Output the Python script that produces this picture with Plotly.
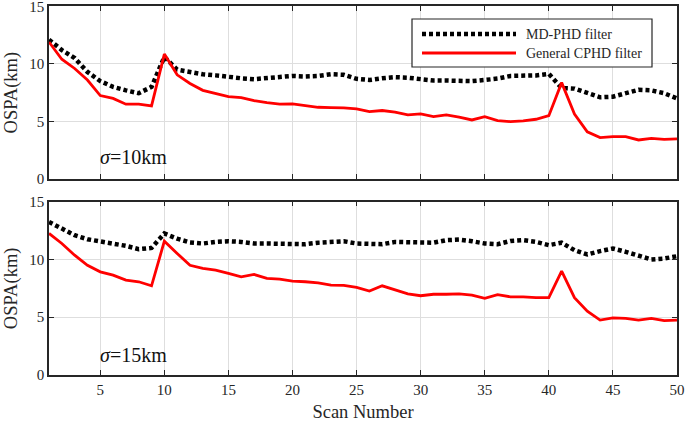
import plotly.graph_objects as go

scan = list(range(1, 51))

# sigma = 10 km
md_phd_10 = [12.1, 11.2, 10.5, 9.3, 8.5, 8.0, 7.7, 7.45, 8.0, 10.6,
             9.5, 9.3, 9.1, 9.0, 8.85, 8.75, 8.67, 8.75, 8.9, 8.95,
             8.9, 8.95, 9.1, 9.05, 8.7, 8.6, 8.75, 8.85, 8.8, 8.67,
             8.55, 8.55, 8.5, 8.5, 8.6, 8.72, 8.95, 8.93, 9.0, 9.13,
             7.9, 7.85, 7.5, 7.1, 7.15, 7.4, 7.75, 7.7, 7.45, 7.0]
cphd_10 = [11.9, 10.4, 9.6, 8.6, 7.25, 7.0, 6.5, 6.5, 6.35, 10.85,
           9.05, 8.3, 7.7, 7.4, 7.15, 7.07, 6.8, 6.63, 6.5, 6.52,
           6.35, 6.23, 6.2, 6.18, 6.09, 5.85, 5.95, 5.8, 5.57, 5.65,
           5.42, 5.57, 5.37, 5.13, 5.42, 5.07, 4.98, 5.05, 5.19, 5.5,
           8.37, 5.65, 4.1, 3.6, 3.68, 3.68, 3.39, 3.53, 3.45, 3.48]

# sigma = 15 km
md_phd_15 = [13.25, 12.68, 12.1, 11.75, 11.58, 11.38, 11.18, 10.89, 11.0, 12.25,
             11.8, 11.47, 11.38, 11.52, 11.58, 11.52, 11.38, 11.38, 11.38, 11.35,
             11.32, 11.45, 11.52, 11.58, 11.38, 11.35, 11.32, 11.52, 11.52, 11.47,
             11.45, 11.67, 11.72, 11.58, 11.38, 11.32, 11.6, 11.67, 11.52, 11.24,
             11.45, 10.8, 10.43, 10.72, 10.95, 10.66, 10.37, 10.0, 10.08, 10.28]
cphd_15 = [12.25, 11.38, 10.37, 9.5, 8.93, 8.64, 8.21, 8.07, 7.72, 11.58,
           10.52, 9.5, 9.22, 9.07, 8.79, 8.5, 8.7, 8.36, 8.3, 8.12,
           8.07, 7.98, 7.78, 7.76, 7.58, 7.26, 7.72, 7.35, 7.03, 6.86,
           6.99, 6.99, 7.02, 6.91, 6.63, 6.96, 6.77, 6.77, 6.7, 6.7,
           8.99, 6.7, 5.53, 4.75, 4.95, 4.9, 4.75, 4.9, 4.7, 4.75]

series_names = ["MD-PHD filter", "General CPHD filter"]
panel_labels = ["<i>σ</i>=10km", "<i>σ</i>=15km"]
x_ticks = [5, 10, 15, 20, 25, 30, 35, 40, 45, 50]
y_ticks = [0, 5, 10, 15]

FONT = "Liberation Serif"
W, H = 685, 422

fig = go.Figure()
black_line = dict(color="black", width=4.5, dash="4px,3px")
red_line = dict(color="#ff0000", width=2.8)

fig.add_trace(go.Scatter(x=scan, y=md_phd_10, mode="lines", line=black_line,
                         name=series_names[0], showlegend=False, xaxis="x", yaxis="y"))
fig.add_trace(go.Scatter(x=scan, y=cphd_10, mode="lines", line=red_line,
                         name=series_names[1], showlegend=False, xaxis="x", yaxis="y"))
fig.add_trace(go.Scatter(x=scan, y=md_phd_15, mode="lines", line=black_line,
                         name=series_names[0], showlegend=False, xaxis="x2", yaxis="y2"))
fig.add_trace(go.Scatter(x=scan, y=cphd_15, mode="lines", line=red_line,
                         name=series_names[1], showlegend=False, xaxis="x2", yaxis="y2"))

xdom = [49 / W, 677 / W]
ydom_top = [(H - 179) / H, (H - 6.3) / H]
ydom_bot = [(H - 375) / H, (H - 201.7) / H]

axis_common = dict(showline=True, linecolor="#262626", linewidth=1.5, mirror="ticks",
                   ticks="inside", ticklen=5, tickcolor="#262626", tickwidth=1.2,
                   showgrid=True, gridcolor="#dedede", gridwidth=1, zeroline=False,
                   ticklabeloverflow="allow",
                   tickfont=dict(family=FONT, size=15, color="#262626"))

fig.update_layout(
    width=W, height=H,
    margin=dict(l=0, r=0, t=0, b=0),
    paper_bgcolor="white", plot_bgcolor="white",
    font=dict(family=FONT, color="#262626"),
    showlegend=False,
    xaxis=dict(domain=xdom, anchor="y", range=[1, 50], tickvals=x_ticks,
               showticklabels=False, **axis_common),
    yaxis=dict(domain=ydom_top, anchor="x", range=[0, 15], tickvals=y_ticks,
               title=dict(text="OSPA(km)", font=dict(family=FONT, size=18.5), standoff=7),
               **axis_common),
    xaxis2=dict(domain=xdom, anchor="y2", range=[1, 50], tickvals=x_ticks,
                title=dict(text="Scan Number", font=dict(family=FONT, size=18.5), standoff=8),
                **axis_common),
    yaxis2=dict(domain=ydom_bot, anchor="x2", range=[0, 15], tickvals=y_ticks,
                title=dict(text="OSPA(km)", font=dict(family=FONT, size=18.5), standoff=7),
                **axis_common),
)
for ax in ("xaxis", "yaxis", "xaxis2", "yaxis2"):
    fig.layout[ax].automargin = False

# panel labels
fig.add_annotation(x=4.8, y=1.9, xref="x", yref="y", text=panel_labels[0], showarrow=False,
                   xanchor="left", yanchor="middle", font=dict(family=FONT, size=20, color="#111"))
fig.add_annotation(x=4.8, y=1.75, xref="x2", yref="y2", text=panel_labels[1], showarrow=False,
                   xanchor="left", yanchor="middle", font=dict(family=FONT, size=20, color="#111"))

# legend box (paper coords)
lx0, lx1 = 412 / W, 652 / W
ly0, ly1 = 1 - 67 / H, 1 - 19 / H
fig.add_shape(type="rect", xref="paper", yref="paper", x0=lx0, x1=lx1, y0=ly0, y1=ly1,
              line=dict(color="#262626", width=1.2), fillcolor="white", layer="above")
row_y = [1 - 34 / H, 1 - 53 / H]
fig.add_shape(type="line", xref="paper", yref="paper", x0=422 / W, x1=516 / W,
              y0=row_y[0], y1=row_y[0], line=black_line, layer="above")
fig.add_shape(type="line", xref="paper", yref="paper", x0=422 / W, x1=516 / W,
              y0=row_y[1], y1=row_y[1], line=red_line, layer="above")
for i in range(2):
    fig.add_annotation(x=524 / W, y=row_y[i], xref="paper", yref="paper", text=series_names[i],
                       showarrow=False, xanchor="left", yanchor="middle",
                       font=dict(family=FONT, size=14, color="#262626"))

fig.write_html("out.html", config={"displayModeBar": False},
               post_script="document.body.style.margin='0';document.body.style.overflow='hidden';")
